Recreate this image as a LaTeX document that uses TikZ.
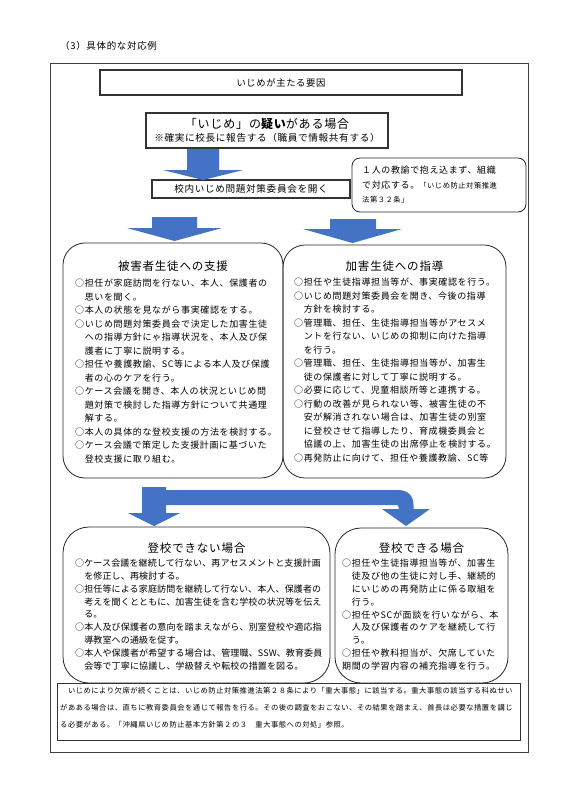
\documentclass[tikz,border=0pt]{standalone}
\usepackage{fontspec}
\setmainfont{Noto Sans CJK JP}
\newfontfamily\jpsp[LetterSpace=7]{Noto Sans CJK JP}
\newfontfamily\jpnar[LetterSpace=1.5]{Noto Sans CJK JP}
\newcommand\bodyf{\jpsp\fontsize{9}{13.5}\selectfont}
\newcommand\botf{\jpsp\fontsize{9}{12.8}\selectfont}
\newcommand\botnf{\jpnar\fontsize{9}{12.8}\selectfont}
\newcommand\notef{\jpsp\fontsize{7.3}{17}\selectfont}
\newcommand\headf{\jpsp\fontsize{11.5}{14}\selectfont}
\definecolor{arrowblue}{RGB}{68,114,196}
\begin{document}
\begin{tikzpicture}[x=1pt,y=-1pt,
  sbox/.style={draw=black!80, line width=1.1pt, inner sep=0pt},
  rbox/.style={draw=black!85, line width=0.8pt, rounded corners=22pt, inner sep=0pt},
  nbox/.style={draw=black!85, line width=0.8pt, rounded corners=8pt, inner sep=0pt},
  txt/.style={inner sep=0pt, align=left, anchor=north west},
  barrow/.style={fill=arrowblue}]
\useasboundingbox (0,0) rectangle (566,800);
\fill[white] (0,0) rectangle (566,800);

\node[anchor=west, inner sep=0pt, font=\jpsp\fontsize{9.5}{11}\selectfont] (title) at (60,46) {（3）具体的な対応例};
\node[draw=black!75, line width=0.8pt, minimum width=478, minimum height=689, anchor=north west, inner sep=0pt] (frame) at (50,63) {};

\node[sbox, minimum width=362, minimum height=25, font=\jpsp\fontsize{9.3}{11}\selectfont] (cause) at (281,82.5) {いじめが主たる要因};

\node[sbox, minimum width=242, minimum height=35, align=center] (doubt) at (267,130.5)
  {{\jpsp\fontsize{12}{15}\selectfont「いじめ」の{\bfseries 疑い}がある場合}\\[1.5pt]
   {\jpsp\fontsize{9.6}{12}\selectfont ※確実に校長に報告する（職員で情報共有する）}};

\node[sbox, minimum width=198, minimum height=18, font=\jpsp\fontsize{9.6}{11}\selectfont] (comm) at (251,189) {校内いじめ問題対策委員会を開く};

\node[nbox, minimum width=174, minimum height=54] (memo) at (439,185) {};
\node[txt, font=\jpsp\fontsize{9}{14.5}\selectfont] (memot) at (362,166)
  {１人の教諭で抱え込まず、組織\\
   で対応する。{\fontsize{7.3}{9}\selectfont「いじめ防止対策推進}\\
   {\fontsize{7.3}{9}\selectfont 法第３２条」}};

% arrow 1
\fill[barrow] (187,149) -- (219,149) -- (219,170) -- (243,170) -- (203,180) -- (163,170) -- (187,170) -- cycle;
% arrows 2
\fill[barrow] (152,217) -- (197,217) -- (197,228) -- (222,228) -- (174.5,241) -- (127,228) -- (152,228) -- cycle;
\fill[barrow] (330,219) -- (376,219) -- (376,229) -- (402,229) -- (352.5,243) -- (303,229) -- (330,229) -- cycle;

% middle boxes
\node[rbox, minimum width=220, minimum height=235] (victim) at (173,360.5) {};
\node[anchor=center, inner sep=0pt, font=\headf] (victimh) at (173,266) {被害者生徒への支援};
\node[txt, font=\bodyf] (victimt) at (75,279)
  {○担任が家庭訪問を行ない、本人、保護者の\\
   　思いを聞く。\\
   ○本人の状態を見ながら事実確認をする。\\
   ○いじめ問題対策委員会で決定した加害生徒\\
   　への指導方針にゃ指導状況を、本人及び保\\
   　護者に丁寧に説明する。\\
   ○担任や養護教諭、SC等による本人及び保護\\
   　者の心のケアを行う。\\
   ○ケース会議を開き、本人の状況といじめ問\\
   　題対策で検討した指導方針について共通理\\
   　解する。\\
   ○本人の具体的な登校支援の方法を検討する。\\
   ○ケース会議で策定した支援計画に基づいた\\
   　登校支援に取り組む。};

\node[rbox, minimum width=223, minimum height=233] (bully) at (394.5,361.5) {};
\node[anchor=center, inner sep=0pt, font=\headf] (bullyh) at (394.5,266) {加害生徒への指導};
\node[txt, font=\bodyf] (bullyt) at (294,278)
  {○担任や生徒指導担当等が、事実確認を行う。\\
   ○いじめ問題対策委員会を開き、今後の指導\\
   　方針を検討する。\\
   ○管理職、担任、生徒指導担当等がアセスメ\\
   　ントを行ない、いじめの抑制に向けた指導\\
   　を行う。\\
   ○管理職、担任、生徒指導担当等が、加害生\\
   　徒の保護者に対して丁寧に説明する。\\
   ○必要に応じて、児童相談所等と連携する。\\
   ○行動の改善が見られない等、被害生徒の不\\
   　安が解消されない場合は、加害生徒の別室\\
   　に登校させて指導したり、育成機委員会と\\
   　協議の上、加害生徒の出席停止を検討する。\\
   ○再発防止に向けて、担任や養護教諭、SC等};

% bent arrow
\fill[barrow] (142,487) -- (166,487) -- (166,513) -- (180,513) -- (154,526) -- (128,513) -- (142,513) -- cycle;
\fill[barrow] (160,490) -- (398,490) .. controls (408,490) and (413.5,496) .. (413.5,505) -- (413.5,509) -- (430,509) -- (406,526) -- (382,509) -- (398.5,509) -- (398.5,507) .. controls (398.5,506) and (398,505) .. (397,505) -- (160,505) -- cycle;

% bottom boxes
\node[rbox, rounded corners=26pt, minimum width=267, minimum height=156] (cannot) at (196.5,605) {};
\node[anchor=center, inner sep=0pt, font=\headf] (cannoth) at (196.5,548) {登校できない場合};
\node[txt, font=\botnf] (cannott) at (75,559)
  {○ケース会議を継続して行ない、再アセスメントと支援計画\\
   　を修正し、再検討する。\\
   ○担任等による家庭訪問を継続して行ない、本人、保護者の\\
   　考えを聞くとともに、加害生徒を含む学校の状況等を伝え\\
   　る。\\
   ○本人及び保護者の意向を踏まえながら、別室登校や適応指\\
   　導教室への通級を促す。\\
   ○本人や保護者が希望する場合は、管理職、SSW、教育委員\\
   　会等で丁寧に協議し、学級替えや転校の措置を図る。};

\node[rbox, rounded corners=26pt, minimum width=173, minimum height=155] (can) at (421.5,605.5) {};
\node[anchor=center, inner sep=0pt, font=\headf] (canh) at (421.5,548) {登校できる場合};
\node[txt, font=\botf] (cant) at (342,559)
  {○担任や生徒指導担当等が、加害生\\
   　徒及び他の生徒に対し手、継続的\\
   　にいじめの再発防止に係る取組を\\
   　行う。\\
   ○担任やSCが面談を行いながら、本\\
   　人及び保護者のケアを継続して行\\
   　う。\\
   ○担任や教科担当が、欠席していた\\
   期間の学習内容の補充指導を行う。};

% note
\node[draw=black!80, line width=1pt, minimum width=463, minimum height=57, inner sep=0pt] (note) at (288.5,712) {};
\node[txt, font=\notef] (notet) at (60,687)
  {　いじめにより欠席が続くことは、いじめ防止対策推進法第２８条により「重大事態」に該当する。重大事態の該当する科ぬせい\\
   があある場合は、直ちに教育委員会を通じて報告を行る。その後の調査をおこない、その結果を踏まえ、首長は必要な措置を講じ\\
   る必要がある。「沖縄県いじめ防止基本方針第２の３　重大事態への対処」参照。};
\end{tikzpicture}
\end{document}
